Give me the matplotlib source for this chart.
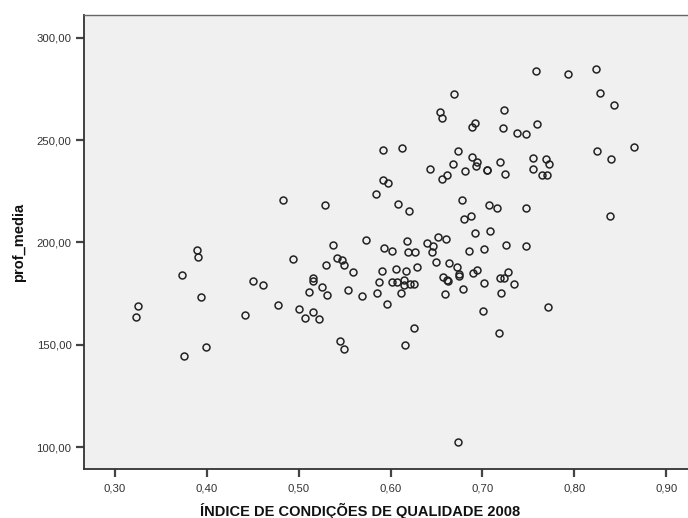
import matplotlib
matplotlib.use('Agg')
import matplotlib.pyplot as plt
from matplotlib.ticker import FuncFormatter

plt.rcParams['font.family'] = ['Liberation Sans', 'DejaVu Sans']

# índice de condições de qualidade (2008) x profundidade média
indice = [
    0.3229, 0.3254, 0.3726, 0.3748, 0.3896, 0.3907, 0.3940, 0.3987, 0.4412, 0.4506,
    0.4611, 0.4771, 0.4825,
    0.6691, 0.6542, 0.6564, 0.6916, 0.6890, 0.5914, 0.6125, 0.6734, 0.6890, 0.6938,
    0.6927, 0.6426, 0.6681, 0.6812, 0.6615, 0.6564, 0.5914, 0.5972, 0.5845, 0.5283,
    0.6076, 0.6201, 0.6774, 0.6872, 0.6803, 0.6922,
    0.5377, 0.5729, 0.4935, 0.5297, 0.5420, 0.5471, 0.5490, 0.5591, 0.5152, 0.5152,
    0.5254, 0.5115, 0.5308, 0.5540, 0.5689, 0.5007, 0.5159, 0.5072, 0.5224, 0.5450,
    0.5493, 0.5925, 0.6016, 0.6183, 0.6190, 0.6266, 0.6394, 0.6466, 0.6520, 0.6600,
    0.6451, 0.6851, 0.6498, 0.6633, 0.6727, 0.5903, 0.6056, 0.6171, 0.6285, 0.5878,
    0.6016, 0.6067, 0.6146, 0.6146, 0.6212, 0.6259, 0.5849, 0.6114, 0.5958, 0.6575,
    0.6611, 0.6629, 0.6745, 0.6745, 0.6789, 0.6593, 0.6894, 0.6945, 0.6255, 0.6161,
    0.6734,
    0.7584, 0.7935, 0.8237, 0.8284, 0.8436, 0.7235, 0.7224, 0.7373, 0.7475, 0.7598,
    0.8244, 0.8654, 0.8397, 0.7047, 0.7050, 0.7188, 0.7246, 0.7554, 0.7696, 0.7725,
    0.7554, 0.7652, 0.7707, 0.7075, 0.7159, 0.7471, 0.8389, 0.7083,
    0.7021, 0.7254, 0.7471, 0.7279, 0.7195, 0.7235, 0.7017, 0.7344, 0.7203, 0.7718,
    0.7010, 0.7181,
]
prof_media = [
    163.7, 169.1, 184.2, 144.5, 196.2, 192.9, 173.4, 148.8, 164.4, 181.0,
    179.4, 169.5, 220.5,
    272.6, 263.9, 260.6, 258.2, 256.2, 245.0, 246.0, 244.8, 241.9, 239.4,
    237.3, 236.0, 238.5, 234.9, 233.1, 231.0, 230.6, 228.9, 223.7, 218.4,
    218.9, 215.4, 220.7, 212.8, 211.3, 204.8,
    198.9, 201.3, 191.8, 189.1, 192.6, 191.4, 189.0, 185.7, 182.5, 181.2,
    178.2, 176.0, 174.3, 176.8, 173.7, 167.3, 166.0, 163.1, 162.6, 152.0,
    147.8, 197.4, 195.8, 200.6, 195.5, 195.2, 199.7, 198.3, 202.8, 201.7,
    195.3, 196.0, 190.6, 189.8, 188.2, 185.9, 186.9, 185.9, 188.0, 180.8,
    180.7, 180.5, 181.5, 179.1, 179.9, 179.5, 175.3, 175.3, 170.0, 183.1,
    181.8, 181.0, 184.6, 183.6, 177.4, 175.0, 185.1, 186.7, 158.4, 149.8,
    102.4,
    283.9, 282.3, 284.6, 273.0, 267.0, 264.7, 256.0, 253.5, 252.8, 257.9,
    244.7, 246.5, 240.6, 235.5, 235.2, 239.4, 233.6, 241.1, 240.6, 238.3,
    235.9, 233.1, 233.1, 218.4, 216.7, 216.7, 212.9, 205.7,
    196.9, 198.8, 198.1, 185.7, 182.8, 182.8, 180.3, 179.7, 175.2, 168.3,
    166.4, 155.6,
]

x_ticks = [0.30, 0.40, 0.50, 0.60, 0.70, 0.80, 0.90]
y_ticks = [100, 150, 200, 250, 300]

fig = plt.figure(figsize=(6.88, 5.18), dpi=100)
ax = fig.add_axes([84 / 688, 48.7 / 518, 1 - 84 / 688, (469.3 - 15) / 518])
ax.set_facecolor('#f0f0f0')

ax.plot(indice, prof_media, linestyle='none', marker='o', markersize=5.0,
        markerfacecolor='none', markeredgecolor='#222222', markeredgewidth=1.1)

ax.set_xlim(0.2662, 0.9238)
ax.set_ylim(89.2, 311.1)
ax.set_xticks(x_ticks)
ax.set_yticks(y_ticks)
comma = FuncFormatter(lambda v, pos: f'{v:.2f}'.replace('.', ','))
ax.xaxis.set_major_formatter(comma)
ax.yaxis.set_major_formatter(comma)

ax.tick_params(axis='both', direction='out', length=6, width=1.6, color='#444444',
               labelsize=8.2, labelcolor='#333333')
ax.tick_params(axis='x', pad=4)
ax.tick_params(axis='y', pad=3)

for side in ['left', 'bottom']:
    ax.spines[side].set_color('#333333')
    ax.spines[side].set_linewidth(1.3)
ax.spines['top'].set_color('#666666')
ax.spines['top'].set_linewidth(1.0)
ax.spines['right'].set_visible(False)

fig.text(360 / 688, 1 - 510.5 / 518, 'ÍNDICE DE CONDIÇÕES DE QUALIDADE 2008',
         ha='center', va='center', fontsize=10.5, fontweight='bold', color='#111111')
fig.text(19 / 688, 1 - 242 / 518, 'prof_media', rotation=90,
         ha='center', va='center', fontsize=10.5, fontweight='bold', color='#111111')

fig.savefig('out.png', dpi=100)
